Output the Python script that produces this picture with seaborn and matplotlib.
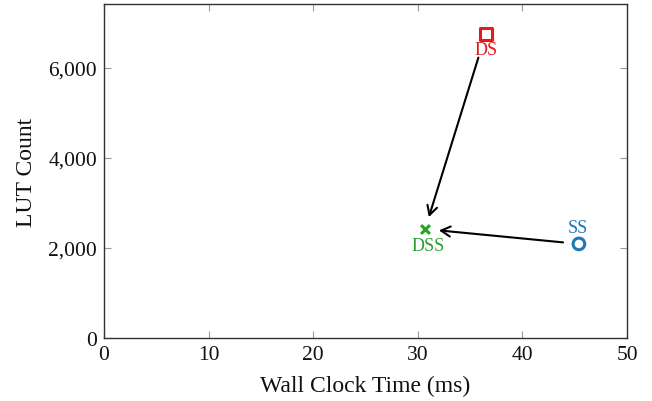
import matplotlib
matplotlib.use("Agg")
import matplotlib.pyplot as plt
import matplotlib.ticker as mticker
import seaborn as sns
import pandas as pd

# Data
names = ["DS", "SS", "DSS"]
wall_clock_ms = [36.5, 45.4, 30.7]
lut_count = [6760, 2090, 2420]
colors = ["#e41a1c", "#1f77b4", "#2ca02c"]
markers = ["s", "o", "X"]
x_ticks = [0, 10, 20, 30, 40, 50]
y_ticks = [0, 2000, 4000, 6000]

sns.set_theme(style="white")
plt.rcParams["font.family"] = ["Liberation Serif", "DejaVu Serif"]

df = pd.DataFrame({"name": names, "time": wall_clock_ms, "luts": lut_count})

fig = plt.figure(figsize=(6.52, 4.02), dpi=100)
ax = fig.add_axes([0.1595, 0.1567, 0.8022, 0.8309])

for i, row in df.iterrows():
    sub = df.iloc[[i]]
    if markers[i] == "X":
        sns.scatterplot(data=sub, x="time", y="luts", marker="x", s=40,
                        color=colors[i], linewidth=2.2, ax=ax, zorder=3)
    else:
        sns.scatterplot(data=sub, x="time", y="luts", marker=markers[i],
                        s=75 if markers[i] == "s" else 70,
                        facecolor="none", edgecolor=colors[i],
                        linewidth=2.2, ax=ax, zorder=3)

# labels
label_offsets = {"DS": (0, -11.5), "SS": (-1, 11.5), "DSS": (2, -11.5)}
for i, n in enumerate(names):
    dx, dy = label_offsets[n]
    ax.annotate(n, (wall_clock_ms[i], lut_count[i]), xytext=(dx, dy),
                textcoords="offset points", ha="center", va="center",
                color=colors[i], fontsize=13)

# arrows toward DSS
target = (wall_clock_ms[2], lut_count[2])
ax.annotate("", xy=target, xytext=(wall_clock_ms[0], lut_count[0]),
            arrowprops=dict(arrowstyle="->,head_length=0.55,head_width=0.3",
                            color="black", lw=1.5, shrinkA=18, shrinkB=9))
ax.annotate("", xy=target, xytext=(wall_clock_ms[1], lut_count[1]),
            arrowprops=dict(arrowstyle="->,head_length=0.55,head_width=0.3",
                            color="black", lw=1.5, shrinkA=11.5, shrinkB=10))

ax.set_xlim(0, 50)
ax.set_ylim(0, 7420)
ax.set_xticks(x_ticks)
ax.set_yticks(y_ticks)
ax.yaxis.set_major_formatter(mticker.FuncFormatter(lambda v, p: f"{int(v):,}"))
ax.tick_params(direction="in", length=5, width=0.8, color="#999999",
               top=True, right=True, bottom=True, left=True,
               labelsize=15.5, labelcolor="#111111", pad=5)
for s in ax.spines.values():
    s.set_color("#333333")
    s.set_linewidth(1.0)
ax.set_xlabel("Wall Clock Time (ms)", fontsize=17, labelpad=8, color="#111111")
ax.set_ylabel("LUT Count", fontsize=17, labelpad=8, color="#111111")
ax.grid(False)

fig.savefig("out.png", dpi=100)
